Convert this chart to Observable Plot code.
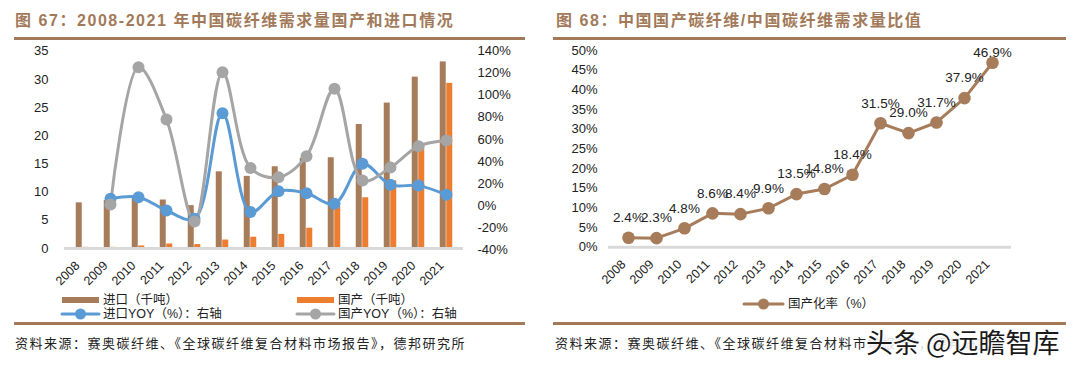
<!DOCTYPE html>
<html>
<head>
<meta charset="utf-8">
<script src="https://cdn.jsdelivr.net/npm/d3@7"></script>
<script src="https://cdn.jsdelivr.net/npm/@observablehq/plot@0.6"></script>
<style>
  html, body { margin: 0; padding: 0; background: #fff; }
  #root { position: relative; width: 1076px; height: 370px; overflow: hidden; background: #fff;
          font-family: "Liberation Sans", "Noto Sans CJK SC", sans-serif; color: #222; }
  .title { font-family: "Liberation Sans", "Noto Sans CJK SC", sans-serif; font-weight: bold; font-size: 16px;
           letter-spacing: 1.55px; color: #A27A5A; white-space: nowrap; line-height: 1; }
  .hr { height: 3px; background: #A27A5A; }
  .src { font-family: "Noto Sans CJK SC", sans-serif; font-size: 13px; letter-spacing: 1.5px; color: #222; white-space: nowrap; line-height: 1; }
  .leg { font-family: "Liberation Sans", "Noto Sans CJK SC", sans-serif; font-size: 12.5px; color: #222; white-space: nowrap; line-height: 1; }
</style>
</head>
<body>
<div id="root"></div>
<script>
// ---------- data ----------
const years = ["2008","2009","2010","2011","2012","2013","2014","2015","2016","2017","2018","2019","2020","2021"];
const importKt   = [8.1, 8.5, 9.2, 8.6, 7.6, 13.6, 12.8, 14.5, 16.0, 16.1, 22.0, 25.8, 30.4, 33.1];
const domesticKt = [0.2, 0.2, 0.45, 0.8, 0.7, 1.5, 2.0, 2.5, 3.6, 7.4, 9.0, 12.0, 18.5, 29.3];
const yoyYears   = years.slice(1);
const importYoy   = [6, 7.5, -4.6, -12, 83.7, -6, 12.9, 11, 1.5, 37.8, 18.7, 18, 9.6];
const domesticYoy = [0.8, 125.5, 78, -14.6, 121, 34, 25.6, 44.7, 106, 22.6, 34.4, 53.8, 58.9];
const ratioPct = [2.4, 2.3, 4.8, 8.6, 8.4, 9.9, 13.5, 14.8, 18.4, 31.5, 29.0, 31.7, 37.9, 46.9];
const leftTicks = [0, 5, 10, 15, 20, 25, 30, 35];
const rightTicks = [-40, -20, 0, 20, 40, 60, 80, 100, 120, 140];
const ratioTicks = [0, 5, 10, 15, 20, 25, 30, 35, 40, 45, 50];

const title1 = "图 67：2008-2021 年中国碳纤维需求量国产和进口情况";
const title2 = "图 68：中国国产碳纤维/中国碳纤维需求量比值";
const source = "资料来源：赛奥碳纤维、《全球碳纤维复合材料市场报告》，德邦研究所";
const legImport = "进口（千吨）", legDomestic = "国产（千吨）";
const legImportYoy = "进口YOY（%）：右轴", legDomesticYoy = "国产YOY（%）：右轴";
const legRatio = "国产化率（%）";
const watermark = "头条 @远瞻智库";

// ---------- colours ----------
const BROWN = "#A67C5B", ORANGE = "#ED7D31", BLUE = "#5B9BD5", GRAY = "#A5A5A5", AXIS = "#D9D9D9", TXT = "#222";

const bars = years.map((y, i) => ({year: y, imp: importKt[i], dom: domesticKt[i]}));
const yoyI = yoyYears.map((y, i) => ({year: y, v: importYoy[i]}));
const yoyD = yoyYears.map((y, i) => ({year: y, v: domesticYoy[i]}));
const ratio = years.map((y, i) => ({year: y, v: ratioPct[i]}));

const root = document.getElementById("root");
function add(el, css) { el.style.position = "absolute"; Object.assign(el.style, css); root.appendChild(el); return el; }
function div(cls, text, css) { const d = document.createElement("div"); if (cls) d.className = cls; if (text) d.textContent = text; return add(d, css); }

// titles & rules
div("title", title1, {left: "15px", top: "13px"});
div("hr", "", {left: "14px", top: "37px", width: "511px"});
div("title", title2, {left: "556px", top: "13px"});
div("hr", "", {left: "553px", top: "37px", width: "513px"});
div("hr", "", {left: "14px", top: "322px", width: "511px"});
div("hr", "", {left: "553px", top: "322px", width: "513px"});
div("src", source, {left: "15px", top: "336px"});
div("src", source, {left: "555px", top: "336px"});

const font = {fontFamily: "Liberation Sans, Arial, sans-serif", fontSize: "13px"};
const svgStyle = {...font, color: TXT, background: "transparent", overflow: "visible"};
const xAxisOpts = {tickSize: 0, tickPadding: 15, tickRotate: -45, label: null, fontSize: 12.5, fill: TXT, dx: -5};

// ---------- left: bars (left axis) ----------
const W1 = 540, H1 = 260;
const barPlot = Plot.plot({
  width: W1, height: H1,
  marginLeft: 64, marginRight: 77, marginTop: 10.7, marginBottom: 52,
  style: svgStyle,
  x: {type: "band", domain: years, padding: 0, label: null},
  y: {domain: [0, 35], label: null},
  marks: [
    Plot.barY(bars, {x: "year", y: "imp", fill: BROWN, insetLeft: 7.75, insetRight: 14.25}),
    Plot.barY(bars, {x: "year", y: "dom", fill: ORANGE, insetLeft: 14.25, insetRight: 7.75}),
    Plot.ruleY([0], {stroke: AXIS, strokeWidth: 3}),
    Plot.axisY({ticks: leftTicks, tickSize: 0, tickPadding: 16, label: null, fontSize: 13, fill: TXT}),
    Plot.axisX(xAxisOpts)
  ]
});
add(barPlot, {left: "0px", top: "40px"});

// ---------- left: YOY lines (right axis) ----------
const linePlot = Plot.plot({
  width: W1, height: H1,
  marginLeft: 64, marginRight: 77, marginTop: 10.7, marginBottom: 51,
  style: svgStyle,
  x: {type: "band", domain: years, padding: 0, axis: null},
  y: {domain: [-40, 140], label: null},
  marks: [
    Plot.line(yoyI, {x: "year", y: "v", stroke: BLUE, strokeWidth: 3, curve: "catmull-rom"}),
    Plot.line(yoyD, {x: "year", y: "v", stroke: GRAY, strokeWidth: 3, curve: "catmull-rom"}),
    Plot.dot(yoyI, {x: "year", y: "v", r: 6, fill: BLUE}),
    Plot.dot(yoyD, {x: "year", y: "v", r: 6, fill: GRAY}),
    Plot.axisY({anchor: "right", ticks: rightTicks, tickFormat: d => d + "%", tickSize: 0, tickPadding: 14, label: null, fontSize: 13, fill: TXT})
  ]
});
add(linePlot, {left: "0px", top: "40px"});

// ---------- right: ratio ----------
const ratioPlot = Plot.plot({
  width: 536, height: 260,
  marginLeft: 68, marginRight: 65, marginTop: 10, marginBottom: 53.3,
  style: svgStyle,
  x: {type: "band", domain: years, padding: 0, label: null},
  y: {domain: [0, 50], label: null},
  marks: [
    Plot.ruleY([0], {stroke: AXIS, strokeWidth: 3}),
    Plot.line(ratio, {x: "year", y: "v", stroke: BROWN, strokeWidth: 3}),
    Plot.dot(ratio, {x: "year", y: "v", r: 6.3, fill: BROWN}),
    Plot.text(ratio.slice(0, -1), {x: "year", y: "v", text: d => d.v.toFixed(1) + "%", dy: -20, fontSize: 13.5, fill: TXT}),
    Plot.text(ratio.slice(-1), {x: "year", y: "v", text: d => d.v.toFixed(1) + "%", dy: -10, fontSize: 13.5, fill: TXT}),
    Plot.axisY({ticks: ratioTicks, tickFormat: d => d + "%", tickSize: 0, tickPadding: 11, label: null, fontSize: 13, fill: TXT}),
    Plot.axisX(xAxisOpts)
  ]
});
add(ratioPlot, {left: "540px", top: "40px"});

// ---------- legends ----------
function swatchRect(x, y, color) {
  return add(document.createElement("div"), {left: x + "px", top: y + "px", width: "37px", height: "6px", background: color});
}
function swatchLine(x, y, color, w) {
  const ns = "http://www.w3.org/2000/svg";
  const s = document.createElementNS(ns, "svg");
  s.setAttribute("width", w + 4); s.setAttribute("height", 14);
  const l = document.createElementNS(ns, "line");
  l.setAttribute("x1", 2); l.setAttribute("x2", w + 2); l.setAttribute("y1", 7); l.setAttribute("y2", 7);
  l.setAttribute("stroke", color); l.setAttribute("stroke-width", 3); l.setAttribute("stroke-linecap", "round");
  const c = document.createElementNS(ns, "circle");
  c.setAttribute("cx", w / 2 + 2); c.setAttribute("cy", 7); c.setAttribute("r", 5.5); c.setAttribute("fill", color);
  s.appendChild(l); s.appendChild(c);
  add(s, {left: (x - 2) + "px", top: (y - 7) + "px"});
}
swatchRect(62, 297, BROWN);
div("leg", legImport, {left: "103px", top: "294px"});
swatchRect(297, 297, ORANGE);
div("leg", legDomestic, {left: "338px", top: "294px"});
swatchLine(62, 314, BLUE, 37);
div("leg", legImportYoy, {left: "103px", top: "308px"});
swatchLine(297, 314, GRAY, 37);
div("leg", legDomesticYoy, {left: "338px", top: "308px"});
swatchLine(744, 304, BROWN, 39);
div("leg", legRatio, {left: "788px", top: "298px"});

// watermark
div("", watermark, {left: "866px", top: "328px", fontFamily: "Noto Sans CJK SC, sans-serif", fontSize: "27px",
  color: "#1a1a1a", whiteSpace: "nowrap", lineHeight: "1", background: "rgba(255,255,255,0.85)",
  textShadow: "0 0 2px #fff, 0 0 2px #fff"});
</script>
</body>
</html>
